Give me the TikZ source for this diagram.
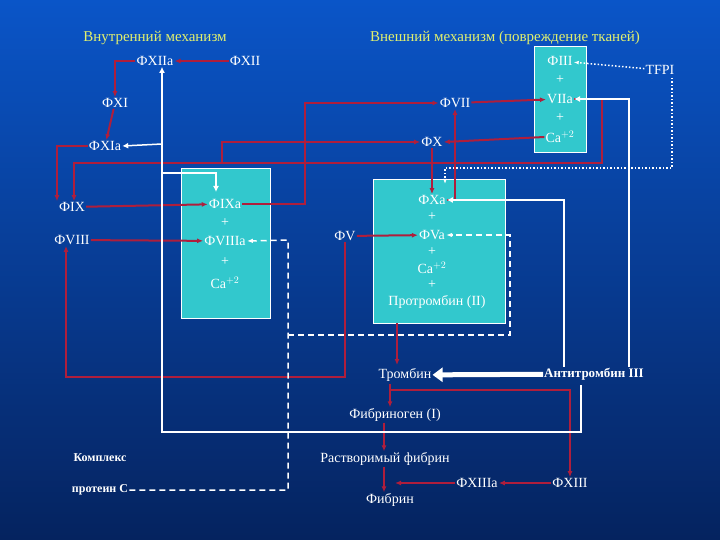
\documentclass[tikz,border=0pt]{standalone}
\usepackage{fontspec}
\setmainfont{Liberation Serif}
\usetikzlibrary{arrows.meta}
\definecolor{bgtop}{RGB}{10,85,200}
\definecolor{bgbot}{RGB}{5,35,95}
\definecolor{rd}{RGB}{175,30,60}
\definecolor{cy}{RGB}{50,200,205}
\definecolor{ttl}{RGB}{225,240,110}
\begin{document}
\begin{tikzpicture}[x=1pt,y=-1pt,
  t/.style={text=white,font=\fontsize{14}{15}\selectfont,inner sep=1pt},
  ttlst/.style={text=ttl,font=\fontsize{15}{16}\selectfont},
  bx/.style={draw=white,fill=cy,line width=1pt},
  rl/.style={draw=rd,line width=2pt},
  ra/.style={rl,-{Latex[length=6pt,width=5pt]}},
  wl/.style={draw=white,line width=1.5pt},
  wa/.style={wl,-{Latex[length=6pt,width=6pt]}},
  da/.style={draw=white,line width=1.5pt,dash pattern=on 6pt off 4pt},
  dt/.style={draw=white,line width=1.5pt,dotted}]
\useasboundingbox (0,0) rectangle (720,540);
\shade[top color=bgtop,bottom color=bgbot] (0,0) rectangle (720,540);
% boxes
\node[bx,minimum width=89pt,minimum height=149pt] (b1) at (225.5,243.5) {};
\node[bx,minimum width=132pt,minimum height=143pt] (b2) at (439,251.5) {};
\node[bx,minimum width=52pt,minimum height=106pt] (b3) at (560,100) {};
% titles
\node[ttlst] (ti1) at (155,38) {Внутренний механизм};
\node[ttlst] (ti2) at (505,38) {Внешний механизм (повреждение тканей)};
% left nodes
\node[t] (f12a) at (155,61) {ФXIIa};
\node[t] (f12) at (245,61) {ФXII};
\node[t] (f11) at (115,103) {ФXI};
\node[t] (f11a) at (105,146) {ФXIa};
\node[t] (f9) at (72,207) {ФIX};
\node[t] (f8) at (72,240) {ФVIII};
% box1 text
\node[t] (f9a) at (225,204) {ФIXa};
\node[t] at (225,223) {+};
\node[t] (f8a) at (225,241) {ФVIIIa};
\node[t] at (225,262) {+};
\node[t] at (225,283) {Ca$^{+2}$};
% box3 text
\node[t] (f3) at (560,61) {ФIII};
\node[t] at (560,80) {+};
\node[t] (f7a) at (560,99) {VIIa};
\node[t] at (560,118) {+};
\node[t] (ca3) at (560,137) {Ca$^{+2}$};
\node[t] (tfpi) at (660,70) {TFPI};
\node[t] (f7) at (455,103) {ФVII};
\node[t] (f10) at (432,142) {ФX};
% box2 text
\node[t] (f10a) at (432,200) {ФXa};
\node[t] at (432,217) {+};
\node[t] (f5a) at (432,235) {ФVa};
\node[t] at (432,252) {+};
\node[t] at (432,268) {Ca$^{+2}$};
\node[t] at (432,285) {+};
\node[t] (pt) at (437,302) {Протромбин (II)};
\node[t] (f5) at (345,236) {ФV};
% bottom
\node[t] (thr) at (405,375) {Тромбин};
\node[text=white,font=\bfseries\fontsize{13}{14}\selectfont,inner sep=1pt] (at3) at (594,374) {Антитромбин III};
\node[t] (fbg) at (395,415) {Фибриноген (I)};
\node[t] (sf) at (385,459) {Растворимый фибрин};
\node[t] (fb) at (390,500) {Фибрин};
\node[t] (f13a) at (477,483) {ФXIIIa};
\node[t] (f13) at (570,483) {ФXIII};
\node[text=white,font=\bfseries\fontsize{12}{13}\selectfont,inner sep=1pt] (kp) at (100,458) {Комплекс};
\node[text=white,font=\bfseries\fontsize{12}{13}\selectfont,inner sep=1pt] (pc) at (100,490) {протеин С};
% red connectors
\draw[ra] (f12) -- (f12a);
\draw[ra] (f12a.west) -| (f11.north);
\draw[ra] (f11) -- (f11a);
\draw[ra] (f11a.west) -| ([xshift=-15pt]f9.north);
\draw[ra] (f9) -- (f9a);
\draw[ra] (f8) -- (f8a);
\draw[ra] (f9a.east) -- (305,204) |- (f7.west);
\draw[ra] (f7) -- (f7a);
\draw[rl] (f7a.east) -- (602,99) |- (222,163);
\draw[ra] (222,163) -| ([xshift=2pt]f9.north);
\draw[ra] (222,163) |- (f10.west);
\draw[ra] (ca3.west) -- (f10.east);
\draw[ra] (f10) -- (f10a.north -| f10);
\draw[ra] (f10a.east) -| (f7.south);
\draw[ra] (f5) -- (f5a);
\draw[ra] (f5.south) |- (66,377) -- (f8.south -| 66,0);
\draw[ra] (397,323) -- (397,365) coordinate (tn);
\draw[ra] (390,384) -- (fbg.north -| 390,0);
\draw[ra] (390,390) -| (f13.north);
\draw[ra] (fbg.south -| 384,0) -- (sf.north -| 384,0);
\draw[ra] (sf.south -| 384,0) -- (fb.north -| 384,0);
\draw[ra] (f13) -- (f13a);
\draw[ra] (f13a) -- (395,483);
% white connectors
\draw[wa] (581,385) -- (581,432) -| (162,72) -- (f12a.south -| 162,0);
\draw[wa] (162,144) -- (f11a.east);
\draw[wa] (162,173) -| (216,192);
\draw[-{Triangle[length=10pt,width=14pt]},draw=white,line width=5pt] (at3) -- (thr);
\draw[wa] (at3.north -| 564,0) |- (f10a.east);
\draw[wa] (at3.north -| 629,0) |- (f7a.east);
% dotted / dashed
\draw[dt,-{Latex[length=5pt]}] (tfpi) -- (f3);
\draw[dt,-{Latex[length=5pt]}] (672,78) |- (445,168) -- (445,184);
\draw[da,-{Latex[length=6pt]}] (pc.east) -| (288,240) -- (f8a.east);
\draw[da,-{Latex[length=6pt]}] (288,335) -| (510,235) -- (f5a.east);
\end{tikzpicture}
\end{document}
